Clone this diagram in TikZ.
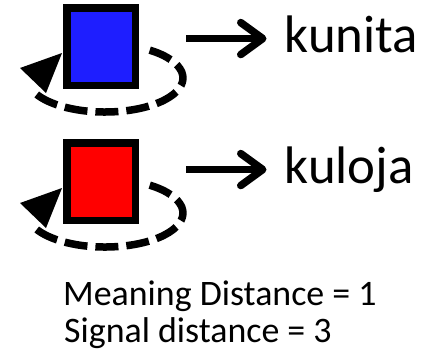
\documentclass[tikz,border=0pt]{standalone}
\usepackage{fontspec}
\setmainfont{Carlito}
\usetikzlibrary{arrows.meta}
\definecolor{sqblue}{RGB}{30,30,255}
\definecolor{sqred}{RGB}{255,0,0}
\begin{document}
\begin{tikzpicture}[x=1bp,y=1bp,
  sq/.style={draw=black, line width=7.5bp, minimum width=68.5bp, minimum height=77.5bp, inner sep=0pt},
  loopdash/.style={line width=7.5bp, dash pattern=on 23bp off 8bp},
  bigarrow/.style={line width=7.5bp, -{Straight Barb[length=22bp, width=32bp, line cap=round, line join=round]}},
  word/.style={font=\fontsize{53}{60}\selectfont, inner sep=0pt, text height=40pt, text depth=13pt, anchor=base west},
  note/.style={font=\fontsize{36}{40}\selectfont, inner sep=0pt, anchor=base west}
]
\useasboundingbox (0,0) rectangle (436,-357);

% squares
\node[sq, fill=sqblue] (sq1) at (101,-46.5) {};
\node[sq, fill=sqred]  (sq2) at (101,-181.5) {};

% words
\node[word] (kunita) at (284.5,-52) {kunita};
\node[word] (kuloja) at (284.5,-183) {kuloja};

% notes
\node[note] (mean) at (63,-305) {Meaning Distance = 1};
\node[note] (sig)  at (64,-342) {Signal distance = 3};

% arrows
\draw[bigarrow, shorten <=47bp, shorten >=18bp] (kunita.west -| sq1.east) -- (kunita.west);
\draw[bigarrow, shorten <=47bp, shorten >=18bp] (kuloja.west -| sq2.east) -- (kuloja.west);

% self loops
\foreach \s in {sq1,sq2}{
  \draw[loopdash] ([shift={(48.7,-3.65)}]\s.center) arc[start angle=55, end angle=-157, x radius=78, y radius=34];
  \fill ([shift={(-81,-21.5)}]\s.center) -- ([shift={(-39,-6.5)}]\s.center) -- ([shift={(-55,-46.5)}]\s.center) -- cycle;
}
\end{tikzpicture}
\end{document}
